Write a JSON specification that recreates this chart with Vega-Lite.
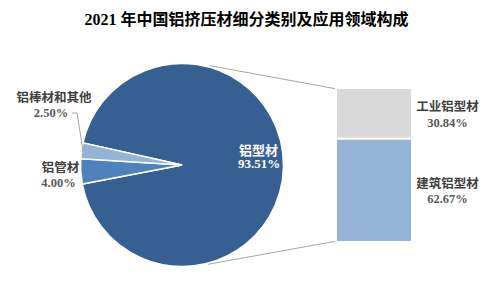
{
  "$schema": "https://vega.github.io/schema/vega-lite/v6.json",
  "width": 493,
  "height": 289,
  "autosize": {"type": "fit", "contains": "padding"},
  "padding": {"top": 12, "left": 0, "right": 0, "bottom": 0},
  "background": "white",
  "title": {
    "text": "2021 年中国铝挤压材细分类别及应用领域构成",
    "font": "Liberation Serif, Noto Sans CJK SC",
    "fontSize": 16,
    "fontWeight": "bold",
    "color": "#000000",
    "anchor": "middle",
    "offset": 2
  },
  "data": {
    "values": [
      {"group": "pie", "name": "铝型材", "share": 0.9351},
      {"group": "pie", "name": "铝管材", "share": 0.04},
      {"group": "pie", "name": "铝棒材和其他", "share": 0.025},
      {"group": "bar", "name": "工业铝型材", "share": 0.3084},
      {"group": "bar", "name": "建筑铝型材", "share": 0.6267}
    ]
  },
  "resolve": {"scale": {"y": "independent"}},
  "layer": [
    {
      "layer": [
        {
          "transform": [{"filter": "datum.group === 'pie'"}],
          "mark": {"type": "arc", "outerRadius": 101.5, "stroke": "white", "strokeWidth": 1.5},
          "encoding": {
            "theta": {"field": "share", "type": "quantitative", "stack": true, "scale": {"range": [-1.351, 4.932]}},
            "order": {"field": "share", "sort": "descending"},
            "color": {
              "field": "name",
              "type": "nominal",
              "legend": null,
              "scale": {
                "domain": ["铝型材", "铝管材", "铝棒材和其他", "工业铝型材", "建筑铝型材"],
                "range": ["#376092", "#4F81BD", "#95B3D7", "#D9D9D9", "#95B3D7"]
              }
            },
            "x": {"datum": 182, "type": "quantitative", "axis": null, "scale": {"domain": [0, 493], "nice": false, "zero": false}},
            "y": {"datum": 165, "type": "quantitative", "axis": null, "scale": {"domain": [30, 289], "reverse": true, "nice": false, "zero": false}}
          }
        },
        {
          "transform": [{"filter": "datum.name === '铝型材'"}],
          "mark": {"type": "rule", "color": "#A6A6A6", "strokeWidth": 1},
          "encoding": {
            "x": {"datum": 210, "type": "quantitative"},
            "y": {"datum": 65.7, "type": "quantitative"},
            "x2": {"datum": 337},
            "y2": {"datum": 89}
          }
        },
        {
          "transform": [{"filter": "datum.name === '铝型材'"}],
          "mark": {"type": "rule", "color": "#A6A6A6", "strokeWidth": 1},
          "encoding": {
            "x": {"datum": 208, "type": "quantitative"},
            "y": {"datum": 264.3, "type": "quantitative"},
            "x2": {"datum": 337},
            "y2": {"datum": 241}
          }
        },
        {
          "transform": [{"filter": "datum.name === '铝棒材和其他'"}],
          "mark": {"type": "rule", "color": "#A6A6A6", "strokeWidth": 1},
          "encoding": {
            "x": {"datum": 72, "type": "quantitative"},
            "y": {"datum": 113, "type": "quantitative"},
            "x2": {"datum": 77},
            "y2": {"datum": 113}
          }
        },
        {
          "transform": [{"filter": "datum.name === '铝棒材和其他'"}],
          "mark": {"type": "rule", "color": "#A6A6A6", "strokeWidth": 1},
          "encoding": {
            "x": {"datum": 77, "type": "quantitative"},
            "y": {"datum": 113, "type": "quantitative"},
            "x2": {"datum": 83},
            "y2": {"datum": 151}
          }
        },
        {
          "transform": [{"filter": "datum.name === '铝型材'"}],
          "mark": {"type": "text", "font": "Liberation Serif, Noto Sans CJK SC", "fontWeight": "bold", "fontSize": 13, "color": "white", "align": "center", "baseline": "middle"},
          "encoding": {
            "x": {"datum": 258.5, "type": "quantitative"},
            "y": {"datum": 150.7, "type": "quantitative"},
            "text": {"field": "name"}
          }
        },
        {
          "transform": [{"filter": "datum.name === '铝型材'"}],
          "mark": {"type": "text", "font": "Liberation Serif, Noto Sans CJK SC", "fontWeight": "bold", "fontSize": 13, "color": "white", "align": "center", "baseline": "middle"},
          "encoding": {
            "x": {"datum": 259, "type": "quantitative"},
            "y": {"datum": 164.3, "type": "quantitative"},
            "text": {"field": "share", "format": ".2%"}
          }
        },
        {
          "transform": [{"filter": "datum.name === '铝棒材和其他'"}],
          "mark": {"type": "text", "font": "Liberation Serif, Noto Sans CJK SC", "fontWeight": "bold", "fontSize": 12.5, "color": "#404040", "align": "center", "baseline": "middle"},
          "encoding": {
            "x": {"datum": 54, "type": "quantitative"},
            "y": {"datum": 98.3, "type": "quantitative"},
            "text": {"field": "name"}
          }
        },
        {
          "transform": [{"filter": "datum.name === '铝棒材和其他'"}],
          "mark": {"type": "text", "font": "Liberation Serif, Noto Sans CJK SC", "fontWeight": "bold", "fontSize": 12.5, "color": "#595959", "align": "center", "baseline": "middle"},
          "encoding": {
            "x": {"datum": 51, "type": "quantitative"},
            "y": {"datum": 113.3, "type": "quantitative"},
            "text": {"field": "share", "format": ".2%"}
          }
        },
        {
          "transform": [{"filter": "datum.name === '铝管材'"}],
          "mark": {"type": "text", "font": "Liberation Serif, Noto Sans CJK SC", "fontWeight": "bold", "fontSize": 12.5, "color": "#404040", "align": "center", "baseline": "middle"},
          "encoding": {
            "x": {"datum": 60.5, "type": "quantitative"},
            "y": {"datum": 168.3, "type": "quantitative"},
            "text": {"field": "name"}
          }
        },
        {
          "transform": [{"filter": "datum.name === '铝管材'"}],
          "mark": {"type": "text", "font": "Liberation Serif, Noto Sans CJK SC", "fontWeight": "bold", "fontSize": 12.5, "color": "#595959", "align": "center", "baseline": "middle"},
          "encoding": {
            "x": {"datum": 58.5, "type": "quantitative"},
            "y": {"datum": 182.7, "type": "quantitative"},
            "text": {"field": "share", "format": ".2%"}
          }
        },
        {
          "transform": [{"filter": "datum.name === '工业铝型材'"}],
          "mark": {"type": "text", "font": "Liberation Serif, Noto Sans CJK SC", "fontWeight": "bold", "fontSize": 12.5, "color": "#404040", "align": "center", "baseline": "middle"},
          "encoding": {
            "x": {"datum": 447.5, "type": "quantitative"},
            "y": {"datum": 106.7, "type": "quantitative"},
            "text": {"field": "name"}
          }
        },
        {
          "transform": [{"filter": "datum.name === '工业铝型材'"}],
          "mark": {"type": "text", "font": "Liberation Serif, Noto Sans CJK SC", "fontWeight": "bold", "fontSize": 12.5, "color": "#595959", "align": "center", "baseline": "middle"},
          "encoding": {
            "x": {"datum": 447.5, "type": "quantitative"},
            "y": {"datum": 122.7, "type": "quantitative"},
            "text": {"field": "share", "format": ".2%"}
          }
        },
        {
          "transform": [{"filter": "datum.name === '建筑铝型材'"}],
          "mark": {"type": "text", "font": "Liberation Serif, Noto Sans CJK SC", "fontWeight": "bold", "fontSize": 12.5, "color": "#404040", "align": "center", "baseline": "middle"},
          "encoding": {
            "x": {"datum": 447.5, "type": "quantitative"},
            "y": {"datum": 184.3, "type": "quantitative"},
            "text": {"field": "name"}
          }
        },
        {
          "transform": [{"filter": "datum.name === '建筑铝型材'"}],
          "mark": {"type": "text", "font": "Liberation Serif, Noto Sans CJK SC", "fontWeight": "bold", "fontSize": 12.5, "color": "#595959", "align": "center", "baseline": "middle"},
          "encoding": {
            "x": {"datum": 447.5, "type": "quantitative"},
            "y": {"datum": 199.3, "type": "quantitative"},
            "text": {"field": "share", "format": ".2%"}
          }
        }
      ]
    },
    {
      "transform": [
        {"filter": "datum.group === 'bar'"},
        {"stack": "share", "groupby": [], "sort": [{"field": "share", "order": "descending"}], "as": ["v0", "v1"]}
      ],
      "mark": {"type": "rect", "stroke": "white", "strokeWidth": 2},
      "encoding": {
        "x": {"datum": 336, "type": "quantitative"},
        "x2": {"datum": 412},
        "y": {"field": "v0", "type": "quantitative", "axis": null, "scale": {"domain": [-0.2854, 1.2873], "nice": false, "zero": false}},
        "y2": {"field": "v1"},
        "color": {"field": "name", "type": "nominal", "legend": null}
      }
    }
  ],
  "config": {
    "view": {"stroke": null},
    "axis": {"disable": true},
    "legend": {"disable": true}
  }
}
